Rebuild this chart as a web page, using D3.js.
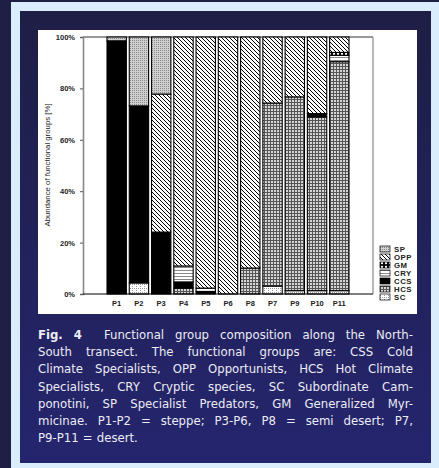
<!DOCTYPE html>
<html lang="en">
<head>
<meta charset="UTF-8">
<title>Functional group composition</title>
<script src="https://cdn.jsdelivr.net/npm/d3@7"></script>
<style>
  body { margin: 0; background: #1f1f45; }
  svg { display: block; }
</style>
</head>
<body>
<div id="container"></div>
<script>
// plots in the order they appear on the x axis
const categories = ["P1", "P2", "P3", "P4", "P5", "P6", "P8", "P7", "P9", "P10", "P11"];
// stacking order, bottom to top
const groups = ["SC", "HCS", "CCS", "CRY", "GM", "OPP", "SP"];

const SC  = [0, 4.3, 0, 0, 0, 0, 0, 3.1, 1.3, 1.3, 1.3];
const HCS = [0, 0, 0, 2.3, 0, 0, 10.1, 71.2, 75.4, 67.6, 89.1];
const CCS = [98.5, 68.9, 24.1, 2.4, 1.0, 0, 0, 0, 0, 1.3, 0];
const CRY = [0, 0, 0, 6.2, 1.3, 0, 0, 0, 0, 0, 2.5];
const GM  = [0, 0, 0, 0, 0, 0, 0, 0, 0, 0, 1.1];
const OPP = [0, 0, 53.7, 89.1, 97.7, 100, 89.9, 25.7, 23.3, 29.8, 6.0];
const SP  = [1.5, 26.8, 22.2, 0, 0, 0, 0, 0, 0, 0, 0];

const yTicks = [0, 20, 40, 60, 80, 100];
const yTitle = "Abundance of functional groups [%]";

const captionLines = [
    "Fig. 4  Functional group composition along the North-",
    "South transect. The functional groups are: CSS Cold",
    "Climate Specialists, OPP Opportunists, HCS Hot Climate",
    "Specialists, CRY Cryptic species, SC Subordinate Cam-",
    "ponotini, SP Specialist Predators, GM Generalized Myr-",
    "micinae. P1-P2 = steppe; P3-P6, P8 = semi desert; P7,",
    "P9-P11 = desert."
];

const series = {SC, HCS, CCS, CRY, GM, OPP, SP};
const table = categories.map((c, i) => {
    let row = {cat: c};
    groups.forEach(g => row[g] = series[g][i]);
    return row;
});

let svg = d3.select("#container")
    .append("svg")
    .attr("width", 439)
    .attr("height", 468);

let defs = svg.append("defs");

let grad = defs.append("linearGradient")
    .attr("id", "navy")
    .attr("x1", 0).attr("y1", 0).attr("x2", 0).attr("y2", 1);
grad.append("stop").attr("offset", "0%").attr("stop-color", "#1e1e45");
grad.append("stop").attr("offset", "100%").attr("stop-color", "#25256f");

// fill patterns for the groups
function pattern(id, w, h) {
    return defs.append("pattern")
        .attr("id", id)
        .attr("patternUnits", "userSpaceOnUse")
        .attr("width", w)
        .attr("height", h);
}

let pOPP = pattern("pOPP", 4, 4);
pOPP.append("rect").attr("width", 4).attr("height", 4).attr("fill", "#fff");
pOPP.append("path").attr("d", "M-1,-1L5,5M3,-1L5,1M-1,3L1,5")
    .attr("stroke", "#000").attr("stroke-width", 1);

let pHCS = pattern("pHCS", 3, 3);
pHCS.append("rect").attr("width", 3).attr("height", 3).attr("fill", "#555");
pHCS.append("rect").attr("x", 1).attr("y", 1).attr("width", 2).attr("height", 2).attr("fill", "#d6d6d6");

let pSP = pattern("pSP", 2, 2);
pSP.append("rect").attr("width", 2).attr("height", 2).attr("fill", "#d0d0d0");
pSP.append("rect").attr("width", 1).attr("height", 1).attr("fill", "#888");

let pCRY = pattern("pCRY", 3, 3);
pCRY.append("rect").attr("width", 3).attr("height", 3).attr("fill", "#fff");
pCRY.append("rect").attr("width", 3).attr("height", 1).attr("fill", "#8a8a8a");

let pSC = pattern("pSC", 4, 4);
pSC.append("rect").attr("width", 4).attr("height", 4).attr("fill", "#fff");
pSC.append("rect").attr("width", 1).attr("height", 1).attr("fill", "#999");
pSC.append("rect").attr("x", 2).attr("width", 1).attr("height", 1).attr("fill", "#999");
pSC.append("rect").attr("y", 2).attr("width", 1).attr("height", 1).attr("fill", "#999");

let pGM = pattern("pGM", 4, 4);
pGM.append("rect").attr("width", 4).attr("height", 4).attr("fill", "#000");
pGM.append("circle").attr("cx", 2).attr("cy", 2).attr("r", 1.2).attr("fill", "#fff");

const fills = {
    SC: "url(#pSC)", HCS: "url(#pHCS)", CCS: "#000", CRY: "url(#pCRY)",
    GM: "url(#pGM)", OPP: "url(#pOPP)", SP: "url(#pSP)"
};

// page frame
svg.append("rect").attr("width", 439).attr("height", 468).attr("fill", "#1f1f45");
svg.append("rect").attr("x", 11).attr("y", 2).attr("width", 428).attr("height", 466).attr("fill", "#d9edfd");
svg.append("rect").attr("x", 20).attr("y", 11).attr("width", 411).attr("height", 452).attr("fill", "url(#navy)");
svg.append("rect").attr("x", 38).attr("y", 30).attr("width", 379).attr("height", 284).attr("fill", "#fff");

let pLeft = 83, pRight = 373, pTop = 37, pBottom = 294;

let x = d3.scaleBand()
    .domain(categories)
    .range([107, 349])
    .paddingInner(0.13);
let y = d3.scaleLinear()
    .domain([0, 100])
    .range([pBottom, pTop]);

let stacked = d3.stack().keys(groups)(table);

// frame lines
svg.append("line").attr("x1", pLeft).attr("x2", pRight).attr("y1", pTop).attr("y2", pTop)
    .attr("stroke", "#333").attr("stroke-width", 1);
svg.append("line").attr("x1", pRight).attr("x2", pRight).attr("y1", pTop).attr("y2", pBottom)
    .attr("stroke", "#888").attr("stroke-width", 1.2);

svg.append("g")
    .selectAll("g")
    .data(stacked)
    .join("g")
    .attr("fill", d => fills[d.key])
    .selectAll("rect")
    .data(d => d.filter(s => s[1] - s[0] > 0))
    .join("rect")
    .attr("x", d => x(d.data.cat))
    .attr("width", x.bandwidth())
    .attr("y", d => y(d[1]))
    .attr("height", d => y(d[0]) - y(d[1]))
    .attr("stroke", "#000")
    .attr("stroke-width", 1.1);

let yAxis = svg.append("g")
    .attr("transform", "translate(" + pLeft + ",0)")
    .call(d3.axisLeft(y).tickValues(yTicks).tickFormat(d => d + "%").tickSize(3).tickPadding(5));
yAxis.select(".domain").attr("stroke", "#888").attr("stroke-width", 1.6);
yAxis.selectAll(".tick line").attr("stroke", "#555");
yAxis.selectAll("text")
    .attr("font-family", "Liberation Sans, Arial, sans-serif")
    .attr("font-weight", "bold")
    .attr("font-size", 7.5)
    .attr("fill", "#222");

let xAxis = svg.append("g")
    .attr("transform", "translate(0," + pBottom + ")")
    .call(d3.axisBottom(x).tickSize(0).tickPadding(7));
xAxis.select(".domain").remove();
xAxis.selectAll("text")
    .attr("font-family", "Liberation Sans, Arial, sans-serif")
    .attr("font-weight", "bold")
    .attr("font-size", 7.5)
    .attr("fill", "#222");
svg.append("line").attr("x1", pLeft).attr("x2", pRight).attr("y1", pBottom).attr("y2", pBottom)
    .attr("stroke", "#000").attr("stroke-width", 1.2);

svg.append("text")
    .attr("transform", "translate(50,165) rotate(-90)")
    .attr("text-anchor", "middle")
    .attr("font-family", "Liberation Sans, Arial, sans-serif")
    .attr("font-size", 7.8)
    .attr("fill", "#222")
    .text(yTitle);

// legend, top entry is the top of the stack
let legend = svg.append("g")
    .selectAll("g")
    .data(groups.slice().reverse())
    .join("g")
    .attr("transform", (d, i) => "translate(380," + (249 + i * 8) + ")");
legend.append("rect")
    .attr("y", -3)
    .attr("width", 10)
    .attr("height", 6)
    .attr("fill", d => fills[d])
    .attr("stroke", "#000")
    .attr("stroke-width", 0.7);
legend.append("text")
    .attr("x", 14)
    .attr("dy", "0.36em")
    .attr("font-family", "Liberation Sans, Arial, sans-serif")
    .attr("font-weight", "bold")
    .attr("font-size", 7.8)
    .attr("letter-spacing", 0.5)
    .attr("fill", "#222")
    .text(d => d);

// caption, justified between x0 and x1
let x0 = 38, x1 = 413, base = 339, lineH = 17.2;
let fontSize = 13;
let cap = svg.append("g")
    .attr("font-family", "DejaVu Sans Condensed, DejaVu Sans, sans-serif")
    .attr("fill", "#ececf4");

function buildLine(str, i) {
    let words = str.split(" ");
    let tokens = [];
    words.forEach(w => {
        if (w === "") { if (tokens.length) tokens[tokens.length - 1].gap += 1; }
        else tokens.push({t: w, gap: 1, bold: i === 0 && tokens.length < 2});
    });
    tokens[tokens.length - 1].gap = 0;
    let t = cap.append("text").attr("y", base + i * lineH).attr("font-size", fontSize);
    tokens.forEach(tk => {
        tk.node = t.append("tspan").attr("font-weight", tk.bold ? "bold" : null).text(tk.t).node();
        tk.w = tk.node.getComputedTextLength();
    });
    return {text: t, tokens: tokens};
}

let built = captionLines.map(buildLine);
let spaceW = fontSize * 0.3;
let widest = d3.max(built.slice(0, -1), l => d3.sum(l.tokens, tk => tk.w + tk.gap * spaceW));
if (widest > x1 - x0) {
    fontSize = fontSize * (x1 - x0) / widest;
    cap.selectAll("*").remove();
    built = captionLines.map(buildLine);
}

built.forEach((l, i) => {
    let last = i === built.length - 1;
    let sumW = d3.sum(l.tokens, tk => tk.w);
    let gaps = d3.sum(l.tokens, tk => tk.gap);
    let g = last ? fontSize * 0.32 : (x1 - x0 - sumW) / gaps;
    let cx = x0;
    l.tokens.forEach(tk => {
        d3.select(tk.node).attr("x", cx);
        cx += tk.w + tk.gap * g;
    });
});
</script>
</body>
</html>
